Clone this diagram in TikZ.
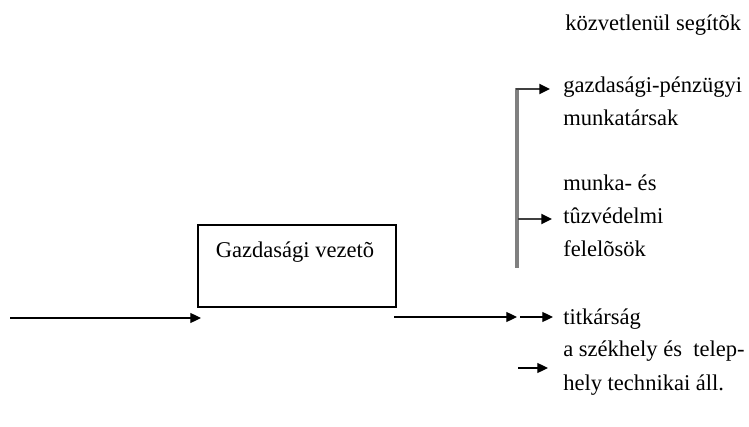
\documentclass[tikz,border=0pt]{standalone}
\usepackage{fontspec}
\setmainfont{Liberation Serif}
\usetikzlibrary{arrows.meta}
\tikzset{
  lbl/.style={anchor=base west, inner sep=0pt, align=left, font=\fontsize{16.9}{24.75}\selectfont},
  arr/.style={-{Triangle[length=8pt,width=7.5pt]}, line width=0.9pt},
  garr/.style={-{Triangle[length=8pt,width=7.5pt,color=black]}, line width=1.4pt, draw=black!75},
  box/.style={draw, line width=0.8pt, minimum width=148.5pt, minimum height=61.5pt, inner sep=0pt}
}
\begin{document}
\begin{tikzpicture}[x=0.75pt,y=-0.75pt]
\useasboundingbox (0,0) rectangle (749,427);
% main box
\node[box] (gv) at (297,266) {};
\node[lbl, anchor=base] (gvt) at (295,258) {Gazdasági vezetõ};
% input arrow
\coordinate (in) at (10,318);
\coordinate (gin) at (201,318);
\draw[arr] (in) -- (gin);
% output arrows
\coordinate (gout) at (394,317);
\coordinate (mid) at (517,317);
\coordinate (mid2) at (520,317);
\coordinate (tip) at (553,317);
\node[lbl] (tit) at (563,325) {titkárság};
\draw[arr] (gout) -- (mid);
\draw[arr] (mid2) -- (tip);
% vertical gray bar
\coordinate (vtop) at (517,88);
\coordinate (vbot) at (517,268);
\draw[line width=3pt, draw=black!50] (vtop) -- (vbot);
\coordinate (b1) at (516,89);
\coordinate (b2) at (518,219);
\draw[garr] (b1) -- (550,89);
\draw[garr] (b2) -- (552,219);
% texts
\node[lbl] (kozv) at (565,31) {közvetlenül segítõk};
\node[lbl] (gp) at (563,126) {gazdasági-pénzügyi\\munkatársak};
\node[lbl] (mt) at (563,257) {munka- és\\tûzvédelmi\\felelõsök};
\node[lbl] (szh) at (563,390) {a székhely és \ telep-\\hely technikai áll.};
% bottom arrow
\coordinate (bs) at (518,368);
\draw[arr] (bs) -- (548,368);
\end{tikzpicture}
\end{document}
